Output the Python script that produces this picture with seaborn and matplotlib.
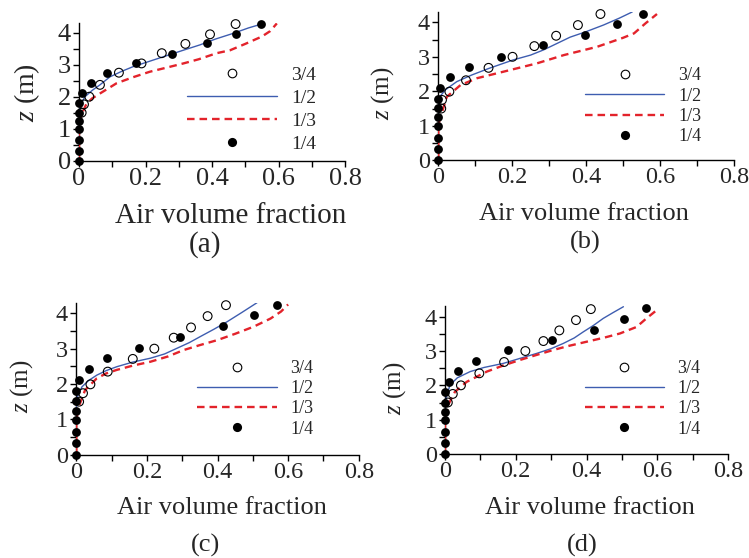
import numpy as np
import matplotlib
matplotlib.use("Agg")
import matplotlib.pyplot as plt
from matplotlib.lines import Line2D
import seaborn as sns

sns.set_theme(style="white")
plt.rcParams['font.family'] = ['Liberation Serif', 'DejaVu Serif']
plt.rcParams['mathtext.fontset'] = 'custom'
plt.rcParams['mathtext.rm'] = 'Liberation Serif'
plt.rcParams['mathtext.it'] = 'Liberation Serif:italic'

# ---------------- data ----------------
legend_labels = ["3/4", "1/2", "1/3", "1/4"]
panel_names = ["(a)", "(b)", "(c)", "(d)"]
x_ticks = [0, 0.2, 0.4, 0.6, 0.8]
x_tick_labels = ["0", "0.2", "0.4", "0.6", "0.8"]
y_ticks = [0, 1, 2, 3, 4]

# panel (a)
a_open_x = [0.008, 0.015, 0.031, 0.063, 0.12, 0.188, 0.249, 0.32, 0.394, 0.471]
a_open_z = [1.50, 1.76, 2.00, 2.37, 2.75, 3.04, 3.36, 3.65, 3.95, 4.27]
a_fill_x = [0, 0, 0, 0, 0, 0, 0, 0.01, 0.036, 0.085, 0.17, 0.279, 0.385, 0.473, 0.547]
a_fill_z = [0, 0.30, 0.65, 1.00, 1.24, 1.48, 1.81, 2.12, 2.42, 2.75, 3.04, 3.33, 3.67, 3.97, 4.27]
a_half_x = [0, 0, 0.003, 0.01, 0.018, 0.04, 0.063, 0.093, 0.13, 0.163, 0.21, 0.26, 0.31, 0.364, 0.41, 0.464, 0.51, 0.549]
a_half_z = [0, 1.50, 1.70, 1.85, 2.00, 2.20, 2.37, 2.62, 2.80, 2.94, 3.10, 3.27, 3.44, 3.62, 3.80, 3.98, 4.15, 4.27]
a_third_x = [0, 0, 0.004, 0.01, 0.023, 0.04, 0.063, 0.113, 0.16, 0.213, 0.26, 0.314, 0.36, 0.414, 0.454, 0.50, 0.55, 0.575, 0.595]
a_third_z = [0, 1.00, 1.30, 1.50, 1.79, 1.95, 2.10, 2.42, 2.60, 2.78, 2.90, 3.04, 3.17, 3.36, 3.45, 3.65, 3.88, 4.05, 4.29]

# panel (b)
b_open_x = [0.008, 0.01, 0.03, 0.075, 0.136, 0.201, 0.26, 0.319, 0.378, 0.439]
b_open_z = [1.50, 1.75, 1.99, 2.32, 2.68, 3.00, 3.31, 3.61, 3.92, 4.24]
b_fill_x = [0, 0, 0, 0, 0, 0, 0, 0.005, 0.032, 0.084, 0.17, 0.284, 0.398, 0.484, 0.555]
b_fill_z = [0, 0.33, 0.66, 0.99, 1.25, 1.51, 1.79, 2.10, 2.42, 2.71, 3.00, 3.33, 3.64, 3.94, 4.24]
b_half_x = [0, 0, 0.002, 0.006, 0.02, 0.05, 0.09, 0.136, 0.203, 0.25, 0.285, 0.32, 0.357, 0.398, 0.447, 0.49, 0.525]
b_half_z = [0, 1.50, 1.70, 1.87, 2.05, 2.28, 2.47, 2.66, 2.91, 3.05, 3.20, 3.38, 3.57, 3.72, 3.92, 4.12, 4.30]
b_third_x = [0, 0, 0.004, 0.009, 0.023, 0.06, 0.105, 0.177, 0.267, 0.34, 0.43, 0.50, 0.53, 0.561, 0.592]
b_third_z = [0, 1.00, 1.20, 1.36, 1.84, 2.18, 2.38, 2.57, 2.81, 3.05, 3.29, 3.55, 3.68, 3.97, 4.24]

# panel (c)
c_open_x = [0.008, 0.019, 0.04, 0.089, 0.16, 0.221, 0.276, 0.325, 0.372, 0.424]
c_open_z = [1.50, 1.74, 1.99, 2.35, 2.71, 3.00, 3.31, 3.60, 3.92, 4.23]
c_fill_x = [0, 0, 0, 0, 0, 0, 0, 0.009, 0.035, 0.087, 0.177, 0.295, 0.415, 0.504, 0.568]
c_fill_z = [0, 0.32, 0.64, 0.98, 1.25, 1.52, 1.81, 2.11, 2.42, 2.73, 3.03, 3.33, 3.64, 3.94, 4.24]
c_half_x = [0, 0, 0.003, 0.016, 0.035, 0.058, 0.085, 0.115, 0.16, 0.21, 0.25, 0.285, 0.32, 0.351, 0.39, 0.427, 0.47, 0.512]
c_half_z = [0, 1.45, 1.64, 1.92, 2.10, 2.25, 2.38, 2.49, 2.62, 2.73, 2.85, 3.01, 3.17, 3.34, 3.55, 3.76, 4.03, 4.30]
c_third_x = [0, 0, 0.004, 0.009, 0.025, 0.058, 0.085, 0.115, 0.16, 0.21, 0.26, 0.304, 0.35, 0.399, 0.45, 0.502, 0.55, 0.58, 0.60]
c_third_z = [0, 1.00, 1.20, 1.41, 1.83, 2.16, 2.30, 2.40, 2.52, 2.63, 2.78, 2.96, 3.10, 3.24, 3.42, 3.62, 3.85, 4.05, 4.25]

# panel (d)
d_open_x = [0.008, 0.022, 0.045, 0.097, 0.167, 0.227, 0.278, 0.323, 0.37, 0.412]
d_open_z = [1.50, 1.75, 2.00, 2.35, 2.68, 3.00, 3.29, 3.60, 3.90, 4.22]
d_fill_x = [0, 0, 0, 0, 0, 0, 0, 0.011, 0.038, 0.088, 0.177, 0.301, 0.421, 0.507, 0.568]
d_fill_z = [0, 0.33, 0.65, 0.99, 1.23, 1.50, 1.81, 2.11, 2.42, 2.72, 3.03, 3.31, 3.60, 3.94, 4.24]
d_half_x = [0, 0, 0.003, 0.014, 0.035, 0.071, 0.11, 0.165, 0.21, 0.259, 0.30, 0.334, 0.365, 0.391, 0.42, 0.447, 0.475, 0.504]
d_half_z = [0, 1.45, 1.62, 2.01, 2.22, 2.40, 2.52, 2.64, 2.78, 2.93, 3.07, 3.22, 3.38, 3.56, 3.75, 3.95, 4.12, 4.29]
d_third_x = [0, 0, 0.004, 0.009, 0.028, 0.061, 0.118, 0.165, 0.212, 0.26, 0.306, 0.35, 0.40, 0.45, 0.494, 0.541, 0.569, 0.598]
d_third_z = [0, 1.00, 1.20, 1.43, 1.81, 2.10, 2.40, 2.58, 2.74, 2.89, 3.03, 3.15, 3.27, 3.39, 3.51, 3.70, 3.95, 4.19]

panels = [
    (a_open_x, a_open_z, a_fill_x, a_fill_z, a_half_x, a_half_z, a_third_x, a_third_z),
    (b_open_x, b_open_z, b_fill_x, b_fill_z, b_half_x, b_half_z, b_third_x, b_third_z),
    (c_open_x, c_open_z, c_fill_x, c_fill_z, c_half_x, c_half_z, c_third_x, c_third_z),
    (d_open_x, d_open_z, d_fill_x, d_fill_z, d_half_x, d_half_z, d_third_x, d_third_z),
]

# ---------------- layout (pixels of a 749x558 canvas) ----------------
W, H = 749, 558
# left px, bottom px, right px (x=0.8), px per z unit
ax_px = [
    (79.0, 160.7, 345.0, 32.0),
    (438.3, 160.3, 733.8, 34.5),
    (76.3, 454.7, 358.7, 35.35),
    (445.0, 454.0, 728.2, 34.33),
]
tick_fs = [19, 17.5, 17.5, 17.5]
lab_fs = [21, 19, 19, 19]
leg_fs = [14, 13, 13, 13]
leg_left = [187.3, 585.0, 197.3, 585.0]
leg_cy = [109.4, 106.3, 398.7, 398.8]
leg_hl = [4.6, 4.4, 4.4, 4.35]
leg_spacing = [0.28, 0.18, 0.18, 0.18]
xlab_pos = [(231, 216), (584, 214), (222, 508), (590, 508)]
ylab_pos = [(27, 93), (383, 93), (22, 386), (395, 388)]
panel_pos = [(205, 245), (585, 242), (205, 545), (582, 545)]

BLUE = '#3e5db0'
RED = '#e3232b'
ZMAX = 4.3

fig = plt.figure(figsize=(W / 100, H / 100), dpi=100)
fig.patch.set_facecolor('white')

for i, (ox, oz, fx, fz, hx, hz, tx, tz) in enumerate(panels):
    lpx, bpx, rpx, zpx = ax_px[i]
    hpx = ZMAX * zpx
    ax = fig.add_axes([lpx / W, 1 - bpx / H, (rpx - lpx) / W, hpx / H])
    ax.set_facecolor('none')

    sns.lineplot(x=hx, y=hz, sort=False, estimator=None, ax=ax,
                 color=BLUE, lw=1.0, zorder=3)
    sns.lineplot(x=tx, y=tz, sort=False, estimator=None, ax=ax,
                 color=RED, lw=1.7, linestyle=(0, (3.2, 2.1)), zorder=3)
    sns.scatterplot(x=ox, y=oz, ax=ax, marker='o', s=40,
                    facecolors='none', edgecolors='black', linewidth=0.8,
                    clip_on=False, zorder=4)
    sns.scatterplot(x=fx, y=fz, ax=ax, marker='o', s=40, color='black',
                    edgecolor='black', linewidth=0, clip_on=False, zorder=5)

    ax.set_xlim(0, 0.8)
    ax.set_ylim(0, ZMAX)
    ax.set_xticks(x_ticks)
    ax.set_xticklabels(x_tick_labels)
    ax.set_xticks(np.arange(0.1, 0.8, 0.2), minor=True)
    ax.set_yticks(y_ticks)
    ax.set_yticklabels([str(v) for v in y_ticks])
    ax.set_yticks(np.arange(0.5, 4.3, 1.0), minor=True)
    for s in ['top', 'right']:
        ax.spines[s].set_visible(False)
    for s in ['left', 'bottom']:
        ax.spines[s].set_color('black')
        ax.spines[s].set_linewidth(1.0)
    ax.tick_params(which='both', direction='out', length=4, width=1.0,
                   color='black', left=True, bottom=True)
    ax.tick_params(axis='x', labelsize=tick_fs[i], pad=1)
    ax.tick_params(axis='y', labelsize=tick_fs[i], pad=2)
    ax.grid(False)

    ax.set_xlabel('Air volume fraction', fontsize=lab_fs[i], va='center')
    ax.xaxis.set_label_coords((xlab_pos[i][0] - lpx) / (rpx - lpx),
                              -(xlab_pos[i][1] - bpx) / hpx)
    ax.set_ylabel(r'$z$ (m)', fontsize=lab_fs[i] - 1, va='center')
    ax.yaxis.set_label_coords((ylab_pos[i][0] - lpx) / (rpx - lpx),
                              (bpx - ylab_pos[i][1]) / hpx)

    handles = [
        Line2D([], [], ls='none', marker='o', ms=6.2, mfc='none', mec='black', mew=0.8),
        Line2D([], [], color=BLUE, lw=1.0),
        Line2D([], [], color=RED, lw=1.7, ls=(0, (3.2, 2.1))),
        Line2D([], [], ls='none', marker='o', ms=6.6, mfc='black', mec='black', mew=0),
    ]
    ax.legend(handles, legend_labels, loc='center left',
              bbox_to_anchor=(leg_left[i] / W, 1 - leg_cy[i] / H),
              bbox_transform=fig.transFigure, frameon=False,
              fontsize=leg_fs[i], handlelength=leg_hl[i], handletextpad=0.75,
              labelspacing=leg_spacing[i], borderpad=0, borderaxespad=0)

    fig.text(panel_pos[i][0] / W, 1 - panel_pos[i][1] / H, panel_names[i],
             fontsize=lab_fs[i], ha='center', va='center')

fig.savefig('out.png', dpi=100, facecolor='white')
